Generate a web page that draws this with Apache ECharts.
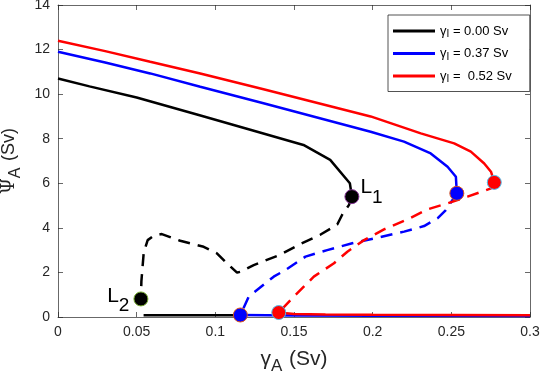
<!DOCTYPE html>
<html>
<head>
<meta charset="utf-8">
<script src="https://cdn.jsdelivr.net/npm/echarts@6/dist/echarts.min.js"></script>
<style>
  html, body { margin: 0; padding: 0; background: #fff; }
  #chart { width: 540px; height: 377px; }
</style>
</head>
<body>
<div id="chart"></div>
<script>
// upper (stable) branches, solid
var blackUpperX = [0, 0.02, 0.05, 0.09, 0.12, 0.156, 0.173, 0.1855, 0.1868];
var blackUpperY = [10.7, 10.35, 9.85, 9.05, 8.45, 7.72, 7.05, 6.0, 5.4];
var blueUpperX = [0, 0.03, 0.0586, 0.0904, 0.13, 0.1987, 0.2199, 0.2369, 0.2476, 0.2529, 0.2535];
var blueUpperY = [11.9, 11.42, 10.93, 10.33, 9.6, 8.31, 7.87, 7.34, 6.74, 6.29, 5.55];
var redUpperX = [0, 0.03, 0.0586, 0.0904, 0.13, 0.1987, 0.2306, 0.2518, 0.2624, 0.2709, 0.2752, 0.2773];
var redUpperY = [12.4, 11.93, 11.45, 10.93, 10.23, 9.0, 8.24, 7.79, 7.42, 6.89, 6.52, 6.04];

// middle (unstable) branches, dashed
var blackDashX = [0.1868, 0.1849, 0.1807, 0.1775, 0.1669, 0.1541, 0.1414, 0.1244, 0.1159, 0.1138, 0.1064, 0.101, 0.0926, 0.0777, 0.066, 0.061, 0.057, 0.0545, 0.053, 0.0527];
var blackDashY = [5.4, 5.02, 4.6, 4.15, 3.7, 3.28, 2.8, 2.33, 2.03, 1.99, 2.48, 2.86, 3.15, 3.42, 3.72, 3.65, 3.45, 2.9, 1.6, 0.81];
var blueDashX = [0.2535, 0.2465, 0.2412, 0.2327, 0.22, 0.203, 0.187, 0.1711, 0.1573, 0.1446, 0.1371, 0.1212, 0.1159];
var blueDashY = [5.55, 4.8, 4.43, 4.08, 3.83, 3.56, 3.31, 3.0, 2.71, 2.11, 1.81, 0.91, 0.09];
var redDashX = [0.2773, 0.2752, 0.2603, 0.2476, 0.2348, 0.2221, 0.2072, 0.1945, 0.1839, 0.1754, 0.1626, 0.1499, 0.1403];
var redDashY = [6.04, 5.77, 5.4, 5.1, 4.83, 4.38, 3.93, 3.45, 2.93, 2.41, 1.81, 0.91, 0.2];

// lower (stable) branches, solid
var blackLowerX = [0.0544, 0.1159];
var blackLowerY = [0.08, 0.08];
var blueLowerX = [0.1159, 0.15, 0.2, 0.3];
var blueLowerY = [0.09, 0.07, 0.06, 0.05];
var redLowerX = [0.1403, 0.15, 0.17, 0.2, 0.3];
var redLowerY = [0.2, 0.14, 0.11, 0.1, 0.08];

// fold points
var blackPtX = [0.1868, 0.0527];
var blackPtY = [5.4, 0.81];
var blackPtName = ['1', '2'];
var bluePtX = [0.1159, 0.2535];
var bluePtY = [0.09, 5.55];
var redPtX = [0.1403, 0.2773];
var redPtY = [0.2, 6.04];

var legendNames = ['γI = 0.00 Sv', 'γI = 0.37 Sv', 'γI =  0.52 Sv'];
var xTicks = { min: 0, max: 0.3, interval: 0.05 };
var yTicks = { min: 0, max: 14, interval: 2 };

function zip(xs, ys) {
  return xs.map(function (x, i) { return [x, ys[i]]; });
}

var axisColor = '#262626';
var font = 'Liberation Sans';

function line(name, xs, ys, color, dashed) {
  return {
    name: name,
    type: 'line',
    data: zip(xs, ys),
    symbol: 'none',
    smooth: false,
    lineStyle: { color: color, width: 2.5, type: dashed ? [12, 8] : 'solid' },
    itemStyle: { color: color },
    z: dashed ? 2 : 3
  };
}

function points(xs, ys, color, border) {
  return {
    type: 'scatter',
    data: zip(xs, ys),
    symbolSize: 14,
    itemStyle: { color: color, borderColor: border, borderWidth: 1, opacity: 1 },
    z: 5
  };
}

var chartDom = document.getElementById('chart');
var myChart = echarts.init(chartDom);

var blackPts = points(blackPtX, blackPtY, '#000000', '#7E2F8E');
blackPts.data = blackPtX.map(function (x, i) {
  return {
    value: [x, blackPtY[i]],
    itemStyle: { borderColor: i === 0 ? '#7E2F8E' : '#77AC30' },
    label: {
      show: true,
      formatter: '{l|L}{s|' + blackPtName[i] + '}',
      position: i === 0 ? 'right' : 'left',
      distance: i === 0 ? 1 : 4,
      offset: i === 0 ? [0, -9] : [0, -3],
      rich: {
        l: { fontSize: 21, color: '#000', fontFamily: font },
        s: { fontSize: 19, color: '#000', fontFamily: font, padding: [20, 0, 0, 0] }
      }
    }
  };
});

var option = {
  animation: false,
  textStyle: { fontFamily: font },
  grid: { left: 58, right: 10, top: 5, bottom: 60, containLabel: false, outerBoundsMode: 'none' },
  legend: {
    data: legendNames,
    orient: 'vertical',
    left: 388,
    top: 15,
    padding: [8, 18, 7, 5],
    icon: 'rect',
    itemWidth: 42,
    itemHeight: 3,
    itemGap: 6,
    borderColor: axisColor,
    borderWidth: 0.8,
    borderRadius: 0,
    backgroundColor: '#fff',
    formatter: function (name) {
      return '{g|γ}{s|I}{t|' + name.slice(2) + '}';
    },
    textStyle: {
      color: '#000',
      fontSize: 13,
      lineHeight: 16,
      rich: {
        g: { fontSize: 13, fontFamily: font },
        s: { fontSize: 10, fontFamily: font, padding: [7, 0, 0, 0] },
        t: { fontSize: 13, fontFamily: font }
      }
    }
  },
  xAxis: [
    {
      type: 'value',
      min: xTicks.min,
      max: xTicks.max,
      interval: xTicks.interval,
      position: 'bottom',
      name: '{g|γ}{s|A}  {n|(Sv)}',
      nameLocation: 'middle',
      nameGap: 27,
      nameTextStyle: {
        color: axisColor,
        rich: {
          g: { fontSize: 21, fontFamily: font, color: axisColor },
          s: { fontSize: 17, fontFamily: font, color: axisColor, padding: [14, 0, 0, 0] },
          n: { fontSize: 21, fontFamily: font, color: axisColor }
        }
      },
      axisLine: { show: true, lineStyle: { color: axisColor, width: 0.7 } },
      axisTick: { show: true, inside: true, length: 5, lineStyle: { color: axisColor, width: 0.7 } },
      axisLabel: { color: axisColor, fontSize: 14, margin: 8 },
      splitLine: { show: false }
    },
    {
      type: 'value',
      min: xTicks.min,
      max: xTicks.max,
      interval: xTicks.interval,
      position: 'top',
      axisLine: { show: true, onZero: false, lineStyle: { color: axisColor, width: 0.7 } },
      axisTick: { show: true, inside: true, length: 5, lineStyle: { color: axisColor, width: 0.7 } },
      axisLabel: { show: false },
      splitLine: { show: false }
    }
  ],
  yAxis: [
    {
      type: 'value',
      min: yTicks.min,
      max: yTicks.max,
      interval: yTicks.interval,
      position: 'left',
      name: '{g|Ψ}{s|A}  {n|(Sv)}',
      nameLocation: 'middle',
      nameRotate: 90,
      nameGap: 30,
      nameTextStyle: {
        color: axisColor,
        rich: {
          g: { fontSize: 18, fontFamily: 'DejaVu Serif', color: axisColor },
          s: { fontSize: 16, fontFamily: font, color: axisColor, padding: [12, 0, 0, 0] },
          n: { fontSize: 18, fontFamily: font, color: axisColor }
        }
      },
      axisLine: { show: true, lineStyle: { color: axisColor, width: 0.7 } },
      axisTick: { show: true, inside: true, length: 5, lineStyle: { color: axisColor, width: 0.7 } },
      axisLabel: { color: axisColor, fontSize: 14, margin: 8 },
      splitLine: { show: false }
    },
    {
      type: 'value',
      min: yTicks.min,
      max: yTicks.max,
      interval: yTicks.interval,
      position: 'right',
      axisLine: { show: true, onZero: false, lineStyle: { color: axisColor, width: 0.7 } },
      axisTick: { show: true, inside: true, length: 5, lineStyle: { color: axisColor, width: 0.7 } },
      axisLabel: { show: false },
      splitLine: { show: false }
    }
  ],
  series: [
    line(legendNames[0], blackUpperX, blackUpperY, '#000000', false),
    line(legendNames[1], blueUpperX, blueUpperY, '#0000ff', false),
    line(legendNames[2], redUpperX, redUpperY, '#ff0000', false),
    line('black dashed', blackDashX, blackDashY, '#000000', true),
    line('blue dashed', blueDashX, blueDashY, '#0000ff', true),
    line('red dashed', redDashX, redDashY, '#ff0000', true),
    line('black lower', blackLowerX, blackLowerY, '#000000', false),
    line('blue lower', blueLowerX, blueLowerY, '#0000ff', false),
    line('red lower', redLowerX, redLowerY, '#ff0000', false),
    blackPts,
    points(bluePtX, bluePtY, '#0000ff', '#D95319'),
    points(redPtX, redPtY, '#ff0000', '#4DBEEE')
  ]
};

option && myChart.setOption(option);
</script>
</body>
</html>
